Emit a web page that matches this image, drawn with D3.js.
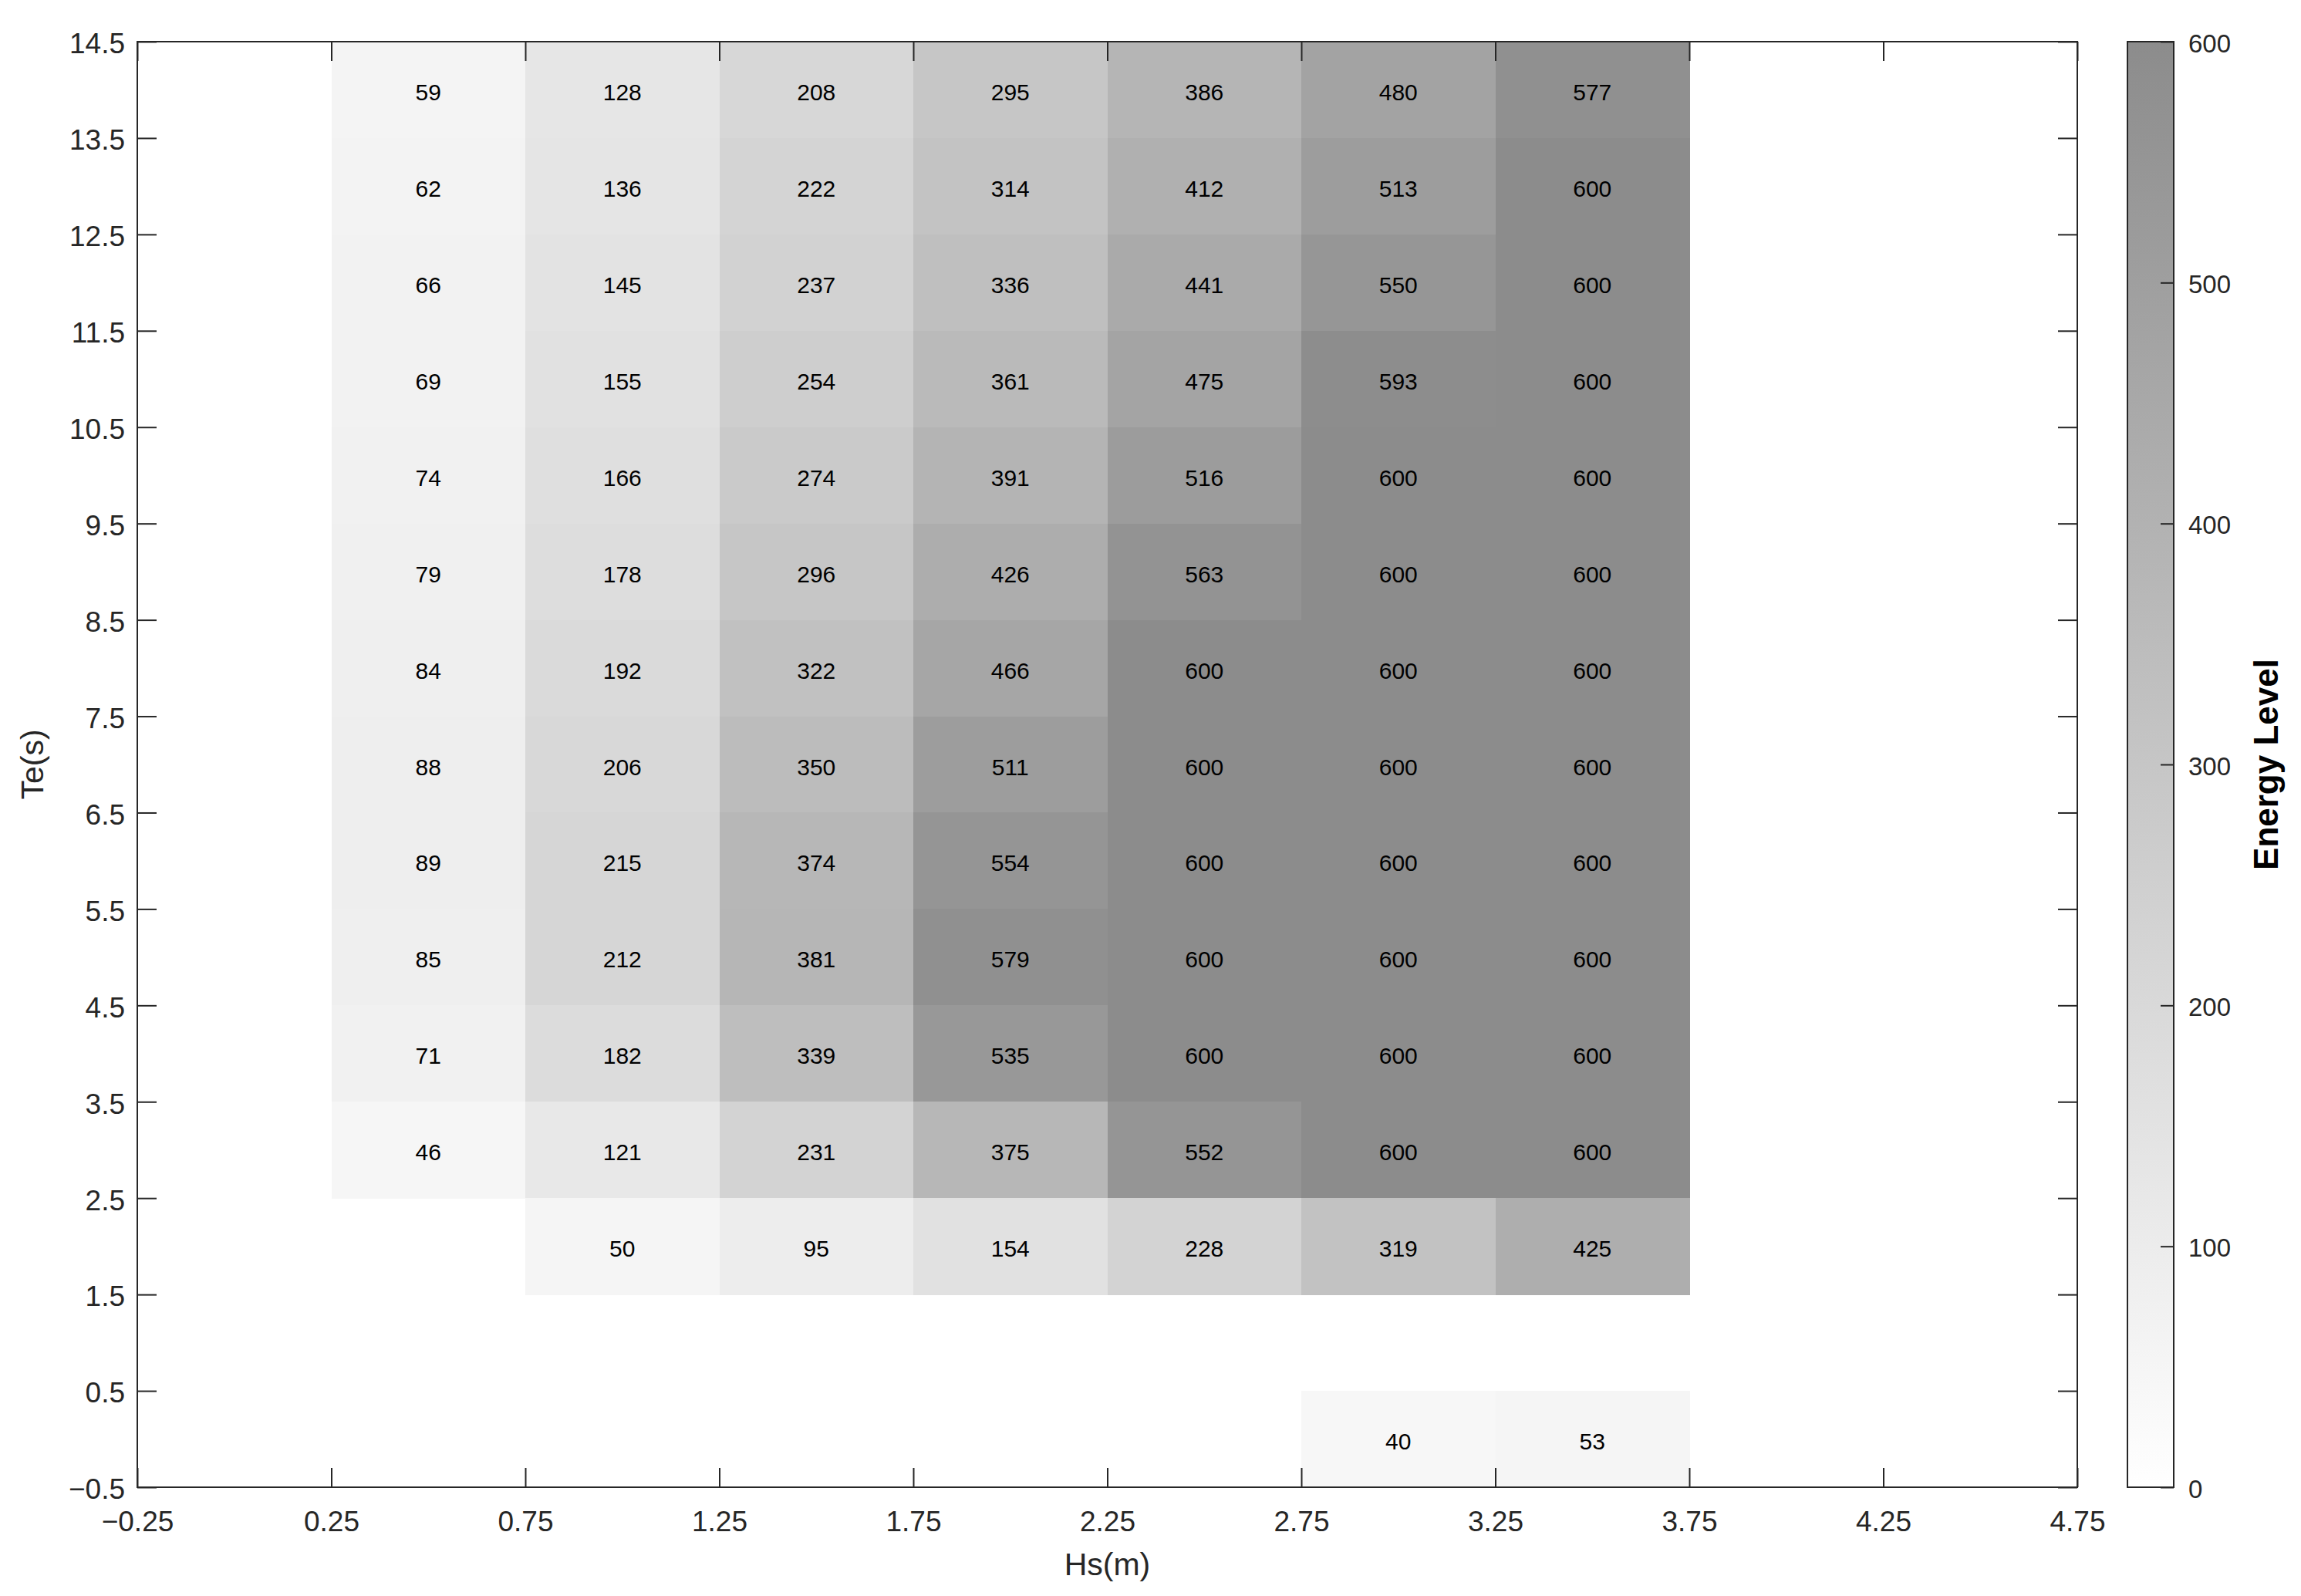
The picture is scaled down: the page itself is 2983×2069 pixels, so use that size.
<!DOCTYPE html>
<html>
<head>
<meta charset="utf-8">
<script src="https://cdn.jsdelivr.net/npm/d3@7"></script>
<style>
  html, body { margin: 0; padding: 0; background: #fff; }
  svg { display: block; font-family: "Liberation Sans", Arial, Helvetica, sans-serif; }
</style>
</head>
<body>
<script>
// ---- Data ----
const hsCenters = [0.5, 1.0, 1.5, 2.0, 2.5, 3.0, 3.5];
const teCenters = [14, 13, 12, 11, 10, 9, 8, 7, 6, 5, 4, 3, 2, 1, 0];
const row14 = [59, 128, 208, 295, 386, 480, 577];
const row13 = [62, 136, 222, 314, 412, 513, 600];
const row12 = [66, 145, 237, 336, 441, 550, 600];
const row11 = [69, 155, 254, 361, 475, 593, 600];
const row10 = [74, 166, 274, 391, 516, 600, 600];
const row9  = [79, 178, 296, 426, 563, 600, 600];
const row8  = [84, 192, 322, 466, 600, 600, 600];
const row7  = [88, 206, 350, 511, 600, 600, 600];
const row6  = [89, 215, 374, 554, 600, 600, 600];
const row5  = [85, 212, 381, 579, 600, 600, 600];
const row4  = [71, 182, 339, 535, 600, 600, 600];
const row3  = [46, 121, 231, 375, 552, 600, 600];
const row2  = [null, 50, 95, 154, 228, 319, 425];
const row1  = [null, null, null, null, null, null, null];
const row0  = [null, null, null, null, null, 40, 53];
const rows = [row14, row13, row12, row11, row10, row9, row8, row7, row6, row5, row4, row3, row2, row1, row0];

const xTickValues = [-0.25, 0.25, 0.75, 1.25, 1.75, 2.25, 2.75, 3.25, 3.75, 4.25, 4.75];
const yTickValues = [-0.5, 0.5, 1.5, 2.5, 3.5, 4.5, 5.5, 6.5, 7.5, 8.5, 9.5, 10.5, 11.5, 12.5, 13.5, 14.5];
const cbTickValues = [0, 100, 200, 300, 400, 500, 600];

// ---- Layout ----
const W = 2983, H = 2069;
const L = 178, R = 2693, T = 54, B = 1928;
const cbL = 2758, cbR = 2818;
const axisColor = "#262626";

const svg = d3.select("body").append("svg").attr("width", W).attr("height", H);

const x = d3.scaleLinear().domain([-0.25, 4.75]).range([L, R]);
const y = d3.scaleLinear().domain([-0.5, 14.5]).range([B, T]);
const color = d3.scaleLinear().domain([0, 600]).range(["#ffffff", "#8c8c8c"]).clamp(true);
const fmt = v => (v < 0 ? "\u2212" + String(Math.abs(v)) : String(v));

const cells = [];
rows.forEach((r, i) => r.forEach((v, j) => {
  if (v !== null) cells.push({ hs: hsCenters[j], te: teCenters[i], v });
}));

const cw = x(0.5) - x(0);
const ch = y(0) - y(1);

svg.append("g").selectAll("rect").data(cells).join("rect")
  .attr("x", d => x(d.hs - 0.25))
  .attr("y", d => y(d.te + 0.5))
  .attr("width", cw + 0.5)
  .attr("height", ch + 0.5)
  .attr("fill", d => color(d.v))
  .attr("shape-rendering", "crispEdges");

svg.append("g").selectAll("text").data(cells).join("text")
  .attr("x", d => x(d.hs))
  .attr("y", d => y(d.te) + 3)
  .attr("text-anchor", "middle")
  .attr("dominant-baseline", "central")
  .attr("font-size", 30)
  .attr("fill", "#000")
  .text(d => d.v);

// ---- Axes ----
function styleAxis(g, fs) {
  g.selectAll(".domain").remove();
  g.selectAll(".tick line").attr("stroke", axisColor).attr("stroke-width", 2);
  g.selectAll(".tick text").attr("fill", axisColor).attr("font-size", fs)
    .attr("font-family", "'Liberation Sans', Arial, Helvetica, sans-serif");
}

const xb = svg.append("g").attr("transform", `translate(0,${B})`)
  .call(d3.axisBottom(x).tickValues(xTickValues).tickFormat(fmt).tickSizeInner(-25).tickSizeOuter(0).tickPadding(31));
styleAxis(xb, 37);
const xt = svg.append("g").attr("transform", `translate(0,${T})`)
  .call(d3.axisTop(x).tickValues(xTickValues).tickFormat("").tickSizeInner(-25).tickSizeOuter(0));
styleAxis(xt, 37);
const yl = svg.append("g").attr("transform", `translate(${L},0)`)
  .call(d3.axisLeft(y).tickValues(yTickValues).tickFormat(fmt).tickSizeInner(-25).tickSizeOuter(0).tickPadding(16));
styleAxis(yl, 37);
yl.selectAll(".tick text").attr("dy", "0.4em");
const yr = svg.append("g").attr("transform", `translate(${R},0)`)
  .call(d3.axisRight(y).tickValues(yTickValues).tickFormat("").tickSizeInner(-25).tickSizeOuter(0));
styleAxis(yr, 37);

svg.append("rect").attr("x", L).attr("y", T).attr("width", R - L).attr("height", B - T)
  .attr("fill", "none").attr("stroke", axisColor).attr("stroke-width", 2);

svg.append("text").attr("x", (L + R) / 2).attr("y", 2028)
  .attr("text-anchor", "middle").attr("dominant-baseline", "central")
  .attr("font-size", 41).attr("fill", axisColor).text("Hs(m)");
svg.append("text").attr("transform", `translate(42,${(T + B) / 2}) rotate(-90)`)
  .attr("text-anchor", "middle").attr("dominant-baseline", "central")
  .attr("font-size", 41).attr("fill", axisColor).text("Te(s)");

// ---- Colorbar ----
const cbScale = d3.scaleLinear().domain([0, 600]).range([B, T]);
const defs = svg.append("defs");
const grad = defs.append("linearGradient").attr("id", "cbgrad")
  .attr("x1", 0).attr("y1", 1).attr("x2", 0).attr("y2", 0);
cbTickValues.forEach(v => {
  grad.append("stop").attr("offset", v / 600).attr("stop-color", color(v));
});
svg.append("rect").attr("x", cbL).attr("y", T).attr("width", cbR - cbL).attr("height", B - T)
  .attr("fill", "url(#cbgrad)");
const cb = svg.append("g").attr("transform", `translate(${cbR},0)`)
  .call(d3.axisRight(cbScale).tickValues(cbTickValues).tickSizeInner(-17).tickSizeOuter(0).tickPadding(19));
styleAxis(cb, 33);
cb.selectAll(".tick text").attr("dy", "0.4em");
svg.append("rect").attr("x", cbL).attr("y", T).attr("width", cbR - cbL).attr("height", B - T)
  .attr("fill", "none").attr("stroke", axisColor).attr("stroke-width", 2);

svg.append("text").attr("transform", `translate(2937,${(T + B) / 2}) rotate(-90)`)
  .attr("text-anchor", "middle").attr("dominant-baseline", "central")
  .attr("font-size", 44).attr("font-weight", "bold").attr("fill", "#000").text("Energy Level");
</script>
</body>
</html>
